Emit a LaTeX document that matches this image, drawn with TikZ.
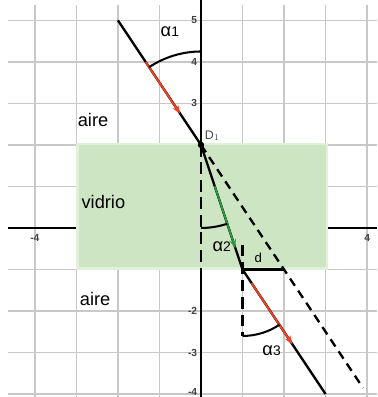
\documentclass[tikz,border=0pt]{standalone}
\usepackage{fontspec}
\setmainfont{Liberation Sans}
\usetikzlibrary{arrows.meta,calc}

\definecolor{gridgray}{RGB}{200,200,200}
\definecolor{glassgreen}{RGB}{205,229,194}
\definecolor{glassedge}{RGB}{225,240,216}
\definecolor{rayred}{RGB}{240,65,35}
\definecolor{raygreen}{RGB}{40,155,65}

\begin{document}
\begin{tikzpicture}[
  >=Stealth,
  ray/.style={line width=1.6pt, black},
  vec/.style={->, line width=1.3pt, #1, arrows={-Stealth[length=6pt,width=4.5pt]}},
  normal/.style={line width=1.5pt, dash pattern=on 8pt off 4pt},
  extended/.style={line width=1.6pt, dash pattern=on 6pt off 4pt},
  anglearc/.style={line width=1.4pt, black},
  ticklabel/.style={font=\fontsize{7}{7}\selectfont\bfseries, text=black!75, inner sep=1pt},
  medium/.style={font=\fontsize{12.5}{14}\selectfont},
]
\useasboundingbox (-4.84,-4.07) rectangle (4.24,5.49);

% --- grid and axes ---
\draw[gridgray, line width=1.1pt] (-4.65,-4.07) grid (4.24,5.37);
\draw[black, line width=1.1pt] (-4.65,0) -- (4.24,0);
\draw[black, line width=1.4pt] (0,-4.07) -- (0,5.49);
\foreach \y in {5,4,3,-2,-3}
  \node[ticklabel, anchor=east] (ty\y) at (-0.05,\y) {\y};
\node[ticklabel, anchor=east] (ty-4) at (-0.05,-3.94) {-4};
\foreach \x in {-4,4}
  \node[ticklabel, anchor=north] (tx\x) at (\x,-0.12) {\x};

% --- glass slab ---
\node[draw=glassedge, fill=glassgreen, line width=1.5pt, inner sep=0pt,
      minimum width=6cm, minimum height=3cm, anchor=south west]
  (glass) at (-3,-1) {};

% --- points ---
\coordinate (S) at (-2,5);
\coordinate (D1) at (0,2);
\coordinate (E) at (1,-1);
\coordinate (F) at (3,-4);
\coordinate (H) at (2,-1);
\coordinate (G) at (3.9,-3.85);

% --- normals ---
\draw[normal] (D1) -- (0,-1);
\draw[normal] (1,-0.4) -- (1,-2.6);

% --- rays ---
\draw[ray] (S) -- (D1) -- (E) -- (F);
\draw[extended] (D1) -- (G);
\draw[line width=1.4pt] (E) -- (H);

\draw[vec=rayred] ($(S)!1/3!(D1)$) -- ($(S)!0.75!(D1)$);
\draw[vec=raygreen] ($(D1)!1/3!(E)$) -- ($(D1)!0.83!(E)$);
\draw[vec=rayred] ($(E)!0.11!(F)$) -- ($(E)!0.6!(F)$);

% --- angles ---
\draw[anglearc] ($(D1)+(90:2.25)$) arc[start angle=90, end angle=123.7, radius=2.25];
\draw[anglearc] ($(D1)+(270:2)$) arc[start angle=270, end angle=288.4, radius=2];
\draw[anglearc] ($(E)+(270:1.6)$) arc[start angle=270, end angle=303.7, radius=1.6];

\fill[black] (D1) circle (2.2pt);
\node[anchor=south west, inner sep=1pt, text=black!70,
      font=\fontsize{8.5}{9}\selectfont] (d1label) at (0.05,2.06) {D$_1$};

% --- labels ---
\node[medium] (a1) at (-0.75,4.73) {α\fontsize{9.5}{10}\selectfont 1};
\node[medium] (a2) at (0.5,-0.45) {α\fontsize{9.5}{10}\selectfont 2};
\node[medium] (a3) at (1.7,-2.95) {α\fontsize{9.5}{10}\selectfont 3};
\node[font=\fontsize{9}{10}\selectfont] (dlabel) at (1.38,-0.73) {d};

\node[medium] (aire1) at (-2.6,2.6) {aire};
\node[medium] (vidrio) at (-2.35,0.62) {vidrio};
\node[medium] (aire2) at (-2.55,-1.72) {aire};

\end{tikzpicture}
\end{document}
